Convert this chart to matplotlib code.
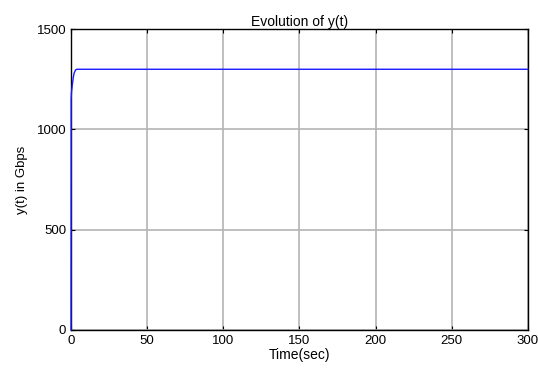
import numpy as np
import matplotlib
matplotlib.use('Agg')
import matplotlib.pyplot as plt

plt.rcParams['font.family'] = ['Liberation Sans', 'DejaVu Sans']

# values
t = [0, 0.1, 0.3, 0.6, 1.0, 1.5, 2.0, 3.0, 4.0, 300]
y = [0, 1150, 1185, 1205, 1230, 1260, 1280, 1297, 1300, 1300]
xticks = [0, 50, 100, 150, 200, 250, 300]
yticks = [0, 500, 1000, 1500]

fig = plt.figure(figsize=(5.38, 3.74), dpi=100)
ax = fig.add_axes([0.132, 0.118, 0.849, 0.804])

ax.plot(t, y, color='#1a1aff', linewidth=1.0, zorder=3, clip_on=False)

ax.set_xlim(0, 300)
ax.set_ylim(0, 1500)
ax.set_xticks(xticks)
ax.set_yticks(yticks)
ax.tick_params(direction='in', length=3, labelsize=9.5, top=True, right=True)
ax.grid(True, color='#b4b4b4', linewidth=1.2)
for s in ax.spines.values():
    s.set_linewidth(1.0)

ax.set_title('Evolution of y(t)', fontsize=10, pad=2)
ax.set_xlabel('Time(sec)', fontsize=10, labelpad=1)
ax.set_ylabel('y(t) in Gbps', fontsize=9.5, labelpad=6)

fig.savefig('out.png', dpi=100)
